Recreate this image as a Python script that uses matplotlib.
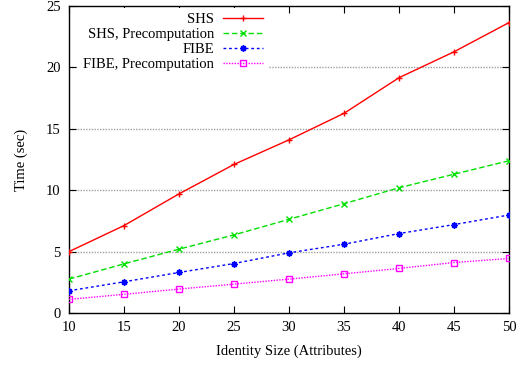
import matplotlib
matplotlib.use("Agg")
import matplotlib.pyplot as plt

plt.rcParams['font.family'] = ['Liberation Serif', 'DejaVu Serif']

sizes = [10, 15, 20, 25, 30, 35, 40, 45, 50]
shs = [5.0, 7.12, 9.7, 12.1, 14.1, 16.26, 19.16, 21.27, 23.65]
shs_pre = [2.76, 4.0, 5.2, 6.36, 7.63, 8.9, 10.2, 11.3, 12.4]
fibe = [1.81, 2.54, 3.3, 4.03, 4.9, 5.6, 6.47, 7.2, 7.98]
fibe_pre = [1.11, 1.52, 1.95, 2.35, 2.76, 3.19, 3.63, 4.11, 4.44]
labels = ['SHS', 'SHS, Precomputation', 'FIBE', 'FIBE, Precomputation']

fig = plt.figure(figsize=(5.21, 3.67), dpi=100)
ax = fig.add_axes([69 / 521, 1 - 313 / 367, 440 / 521, 307 / 367])

# grid lines (horizontal only)
for yv in [5, 10, 15, 20]:
    ax.axhline(yv, color='#a0a0a0', lw=1.0, ls=(0, (1, 1)), zorder=1)

ax.plot(sizes, shs, color='#ff0000', lw=1, marker='+', ms=5, mew=1,
        label=labels[0], zorder=3)
ax.plot(sizes, shs_pre, color='#00e000', lw=1, ls=(0, (4, 2)), marker='x', ms=4.5, mew=1,
        label=labels[1], zorder=3)
ax.plot(sizes, fibe, color='#0000ff', lw=1, ls=(0, (2, 2)), marker=(8, 2, 0), ms=4.5, mew=1.1,
        label=labels[2], zorder=3)
ax.plot(sizes, fibe_pre, color='#ff00ff', lw=1, ls=(0, (1, 1)), marker='s', ms=4.5, mew=1,
        mfc='none', label=labels[3], zorder=3)

ax.set_xlim(10, 50)
ax.set_ylim(0, 25)
ax.set_xticks(range(10, 51, 5))
ax.set_yticks(range(0, 26, 5))
ax.tick_params(direction='in', top=True, right=True, length=5, width=0.8,
               labelsize=10.5, pad=6)
for s in ax.spines.values():
    s.set_linewidth(1.0)

ax.set_xlabel('Identity Size (Attributes)', fontsize=10.5, labelpad=7)
ax.set_ylabel('Time (sec)', fontsize=10.5, labelpad=13)

leg = ax.legend(loc='upper left', bbox_to_anchor=(0.02, 0.995), markerfirst=False,
                alignment='right', frameon=True, fontsize=10.5, handlelength=2.75,
                labelspacing=0.13, borderpad=0.35, handletextpad=0.6,
                borderaxespad=0)
leg.get_frame().set_facecolor('white')
leg.get_frame().set_edgecolor('none')
leg.get_frame().set_alpha(1)
leg.set_zorder(2)

fig.savefig('out.png', dpi=100)
